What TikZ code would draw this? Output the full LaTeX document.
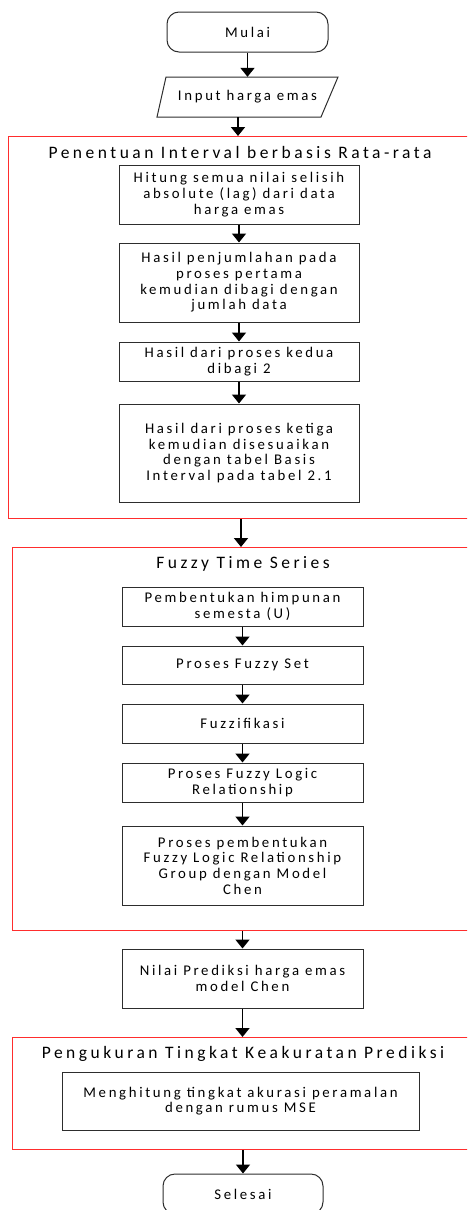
\documentclass[tikz,border=0pt]{standalone}
\usepackage{fontspec}
\setmainfont{Carlito}[LetterSpace=18]
\usetikzlibrary{arrows.meta,calc}

\definecolor{framered}{RGB}{255,45,45}
\definecolor{boxline}{RGB}{45,45,45}

\newcommand\bodyfont{\fontsize{14.8}{15.7}\selectfont}
\newcommand\headfont{\fontsize{17.5}{20}\selectfont\addfontfeature{LetterSpace=20}}

\tikzset{
  proc/.style={draw=boxline, line width=1pt, align=center, inner sep=0pt,
    font=\bodyfont},
  term/.style={proc, rounded corners=12pt},
  group/.style={draw=framered, line width=1.3pt, anchor=north west,
    inner sep=0pt, minimum width=470pt},
  grouptitle/.style={font=\headfont, inner sep=0pt},
  arr/.style={draw=black, line width=1.8pt,
    -{Triangle[width=14pt,length=9pt]}},
}

\begin{document}
\begin{tikzpicture}[x=1pt, y=-1pt]
  \useasboundingbox (0,0) rectangle (467,1210);
  \clip (0,0) rectangle (467,1210);

  % start and input
  \node[term, minimum width=161pt, minimum height=40pt] (start) at (247.5,32) {Mulai};
  \node[font=\bodyfont, inner sep=0pt, minimum width=160pt, minimum height=40pt]
    (input) at (247.5,97) {Input harga emas};
  \draw[boxline, line width=1pt] (166,77) -- (338,77) -- (321,117) -- (157,117) -- cycle;

  % group 1: interval determination
  \node[group, minimum height=382pt] (grpA) at (8,136) {};
  \node[grouptitle] (titleA) at (240,152) {Penentuan Interval berbasis Rata-rata};
  \node[proc, minimum width=240pt, minimum height=59pt] (b1) at (239,194.5)
    {Hitung semua nilai selisih\\absolute (lag) dari data\\harga emas};
  \node[proc, minimum width=240pt, minimum height=79pt] (b2) at (239,282.5)
    {Hasil penjumlahan pada\\proses pertama\\kemudian dibagi dengan\\jumlah data};
  \node[proc, minimum width=240pt, minimum height=39pt] (b3) at (239,361.5)
    {Hasil dari proses kedua\\dibagi 2};
  \node[proc, minimum width=240pt, minimum height=98pt] (b4) at (239,453)
    {Hasil dari proses ketiga\\kemudian disesuaikan\\dengan tabel Basis\\Interval pada tabel 2.1};

  % group 2: fuzzy time series
  \node[group, minimum height=383pt] (grpB) at (12,547) {};
  \node[grouptitle] (titleB) at (243,564) {Fuzzy Time Series};
  \node[proc, minimum width=241pt, minimum height=39pt] (b5) at (242.5,606.5)
    {Pembentukan himpunan\\semesta (U)};
  \node[proc, minimum width=241pt, minimum height=38pt] (b6) at (242.5,665)
    {Proses Fuzzy Set};
  \node[proc, minimum width=241pt, minimum height=39pt] (b7) at (242.5,723.5)
    {Fuzzifikasi};
  \node[proc, minimum width=241pt, minimum height=39pt] (b8) at (242.5,782.5)
    {Proses Fuzzy Logic\\Relationship};
  \node[proc, minimum width=241pt, minimum height=79pt] (b9) at (242.5,865.5)
    {Proses pembentukan\\Fuzzy Logic Relationship\\Group dengan Model\\Chen};

  % prediction
  \node[proc, minimum width=241pt, minimum height=59pt] (b10) at (242.5,978.5)
    {Nilai Prediksi harga emas\\model Chen};

  % group 3: accuracy
  \node[group, minimum height=112pt] (grpC) at (12,1037) {};
  \node[grouptitle] (titleC) at (243,1054) {Pengukuran Tingkat Keakuratan Prediksi};
  \node[proc, minimum width=357pt, minimum height=58pt] (b11) at (240.5,1101)
    {Menghitung tingkat akurasi peramalan\\dengan rumus MSE};

  % end
  \node[term, minimum width=160pt, minimum height=40pt] (stop) at (243,1194) {Selesai};

  % connectors
  \draw[arr] (start.south) -- (input.north);
  \draw[arr] ([xshift=-9.5pt]input.south) -- ([xshift=-9.5pt]input.south |- grpA.north);
  \draw[arr] (b1.south) -- (b2.north);
  \draw[arr] (b2.south) -- (b3.north);
  \draw[arr] (b3.south) -- (b4.north);
  \draw[arr] ([xshift=2pt]b4.south |- grpA.south) -- ([xshift=2pt]b4.south |- grpB.north);
  \draw[arr] (b5.south) -- (b6.north);
  \draw[arr] (b6.south) -- (b7.north);
  \draw[arr] (b7.south) -- (b8.north);
  \draw[arr] (b8.south) -- (b9.north);
  \draw[arr] (b10.north |- grpB.south) -- (b10.north);
  \draw[arr] (b10.south) -- (b10.south |- grpC.north);
  \draw[arr] (stop.north |- grpC.south) -- (stop.north);
\end{tikzpicture}
\end{document}
